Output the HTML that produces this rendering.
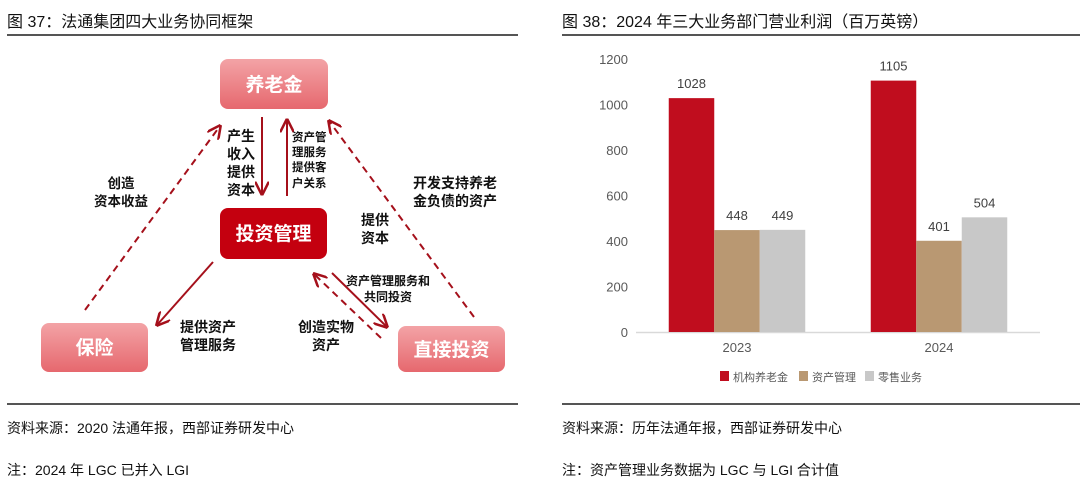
<!DOCTYPE html>
<html><head><meta charset="utf-8"><style>
body{margin:0;width:1080px;height:481px;background:#fff;overflow:hidden;font-family:"Liberation Sans","Noto Sans CJK SC",sans-serif;}
.t{position:absolute;white-space:nowrap;color:#111;}
.rule{position:absolute;height:2px;background:#555;}
</style></head><body>
<div class="t" style="left:7px;top:8px;font-size:16px;">图 37：法通集团四大业务协同框架</div>
<div class="t" style="left:562px;top:8px;font-size:16px;">图 38：2024 年三大业务部门营业利润（百万英镑）</div>
<div class="rule" style="left:7px;top:34px;width:511px;"></div>
<div class="rule" style="left:562px;top:34px;width:518px;"></div>
<div class="rule" style="left:7px;top:403px;width:511px;"></div>
<div class="rule" style="left:562px;top:403px;width:518px;"></div>
<div class="t" style="left:7px;top:418px;font-size:14px;">资料来源：2020 法通年报，西部证券研发中心</div>
<div class="t" style="left:7px;top:460px;font-size:14px;">注：2024 年 LGC 已并入 LGI</div>
<div class="t" style="left:562px;top:418px;font-size:14px;">资料来源：历年法通年报，西部证券研发中心</div>
<div class="t" style="left:562px;top:460px;font-size:14px;">注：资产管理业务数据为 LGC 与 LGI 合计值</div>

<svg style="position:absolute;left:0;top:0" width="540" height="400" font-family="Liberation Sans, Noto Sans CJK SC, sans-serif">
<defs>
<linearGradient id="pg" x1="0" y1="0" x2="0" y2="1"><stop offset="0" stop-color="#f3a3a6"/><stop offset="1" stop-color="#e6686e"/></linearGradient>
<marker id="ah" viewBox="0 0 10 10" refX="9" refY="5" markerWidth="7" markerHeight="7" orient="auto-start-reverse"><path d="M0,0 L10,5 L0,10" fill="none" stroke="#a5101b" stroke-width="1.8"/></marker>
</defs>
<g><rect x="220" y="59" width="108" height="50" rx="8" fill="url(#pg)"/><text x="274" y="91" text-anchor="middle" font-size="19" font-weight="bold" fill="#fff">养老金</text></g>
<g><rect x="220" y="208" width="107" height="51" rx="8" fill="#c4000f"/><text x="273.5" y="240" text-anchor="middle" font-size="19" font-weight="bold" fill="#fff">投资管理</text></g>
<g><rect x="41" y="323" width="107" height="49" rx="8" fill="url(#pg)"/><text x="94.5" y="354" text-anchor="middle" font-size="19" font-weight="bold" fill="#fff">保险</text></g>
<g><rect x="398" y="326" width="107" height="46" rx="8" fill="url(#pg)"/><text x="451.5" y="356" text-anchor="middle" font-size="19" font-weight="bold" fill="#fff">直接投资</text></g>
<g stroke="#a5101b" stroke-width="2" fill="none">
<line x1="262" y1="117" x2="262" y2="194" marker-end="url(#ah)"/>
<line x1="287" y1="196" x2="287" y2="120" marker-end="url(#ah)"/>
<line x1="85" y1="310" x2="220" y2="126" stroke-dasharray="7,5" marker-end="url(#ah)"/>
<line x1="213" y1="262" x2="157" y2="325" marker-end="url(#ah)"/>
<line x1="474" y1="317" x2="329" y2="121" stroke-dasharray="7,5" marker-end="url(#ah)"/>
<line x1="332" y1="273" x2="387" y2="327" marker-end="url(#ah)"/>
<line x1="381" y1="338" x2="314" y2="274" stroke-dasharray="7,5" marker-end="url(#ah)"/>
</g>
<g fill="#111" font-weight="bold">
<g font-size="14"><text x="227" y="141">产生</text><text x="227" y="159">收入</text><text x="227" y="177">提供</text><text x="227" y="195">资本</text></g>
<g font-size="11.5"><text x="292" y="141">资产管</text><text x="292" y="156">理服务</text><text x="292" y="171">提供客</text><text x="292" y="187">户关系</text></g>
<g font-size="13.5" text-anchor="middle"><text x="121" y="188">创造</text><text x="121" y="206">资本收益</text></g>
<g font-size="14" text-anchor="middle"><text x="455" y="188">开发支持养老</text><text x="455" y="206">金负债的资产</text></g>
<g font-size="14"><text x="361" y="225">提供</text><text x="361" y="243">资本</text></g>
<g font-size="12" text-anchor="middle"><text x="388" y="285">资产管理服务和</text><text x="388" y="301">共同投资</text></g>
<g font-size="14" text-anchor="middle"><text x="208" y="332">提供资产</text><text x="208" y="350">管理服务</text></g>
<g font-size="14" text-anchor="middle"><text x="326" y="332">创造实物</text><text x="326" y="350">资产</text></g>
</g>
</svg>

<svg id="chart" style="position:absolute;left:0;top:0" width="1080" height="400" font-family="Liberation Sans, Noto Sans CJK SC, sans-serif"></svg>
<script>
const categories = ["2023", "2024"];
const seriesNames = ["机构养老金", "资产管理", "零售业务"];
const pensionValues = [1028, 1105];
const assetMgmtValues = [448, 401];
const retailValues = [449, 504];
const yTicks = [0, 200, 400, 600, 800, 1000, 1200];

const NS = "http://www.w3.org/2000/svg";
const svg = document.getElementById("chart");
const colors = ["#c00d1e", "#b99872", "#c8c8c8"];
const series = [pensionValues, assetMgmtValues, retailValues];
const x0 = 636, x1 = 1040, y0 = 332, yTop = 59, yMax = 1200;
const yScale = v => y0 - (v / yMax) * (y0 - yTop);
const catW = (x1 - x0) / categories.length;
const barW = 45.5;
function mk(tag, attrs, text) {
  const e = document.createElementNS(NS, tag);
  for (const k in attrs) e.setAttribute(k, attrs[k]);
  if (text !== undefined) e.textContent = text;
  svg.appendChild(e);
  return e;
}
yTicks.forEach(t => {
  const e = mk("text", {x: 628, y: yScale(t) + 5, "text-anchor": "end", "font-size": "13", fill: "#595959"}, String(t));
  
  
});
const ax = mk("line", {x1: x0, x2: x1, y1: y0 + 0.5, y2: y0 + 0.5, stroke: "#d9d9d9", "stroke-width": 1.5});


categories.forEach((c, i) => {
  const cx = x0 + catW * (i + 0.5);
  const lbl = mk("text", {x: cx, y: y0 + 20, "text-anchor": "middle", "font-size": "13", fill: "#595959"}, c);
  
  
  series.forEach((vals, s) => {
    const bx = cx - barW * 1.5 + s * barW;
    const v = vals[i];
    const r = mk("rect", {x: bx, y: yScale(v), width: barW, height: y0 - yScale(v), fill: colors[s]});
    
    
    const vl = mk("text", {x: bx + barW / 2, y: yScale(v) - 10, "text-anchor": "middle", "font-size": "13", fill: "#404040"}, String(v));
    
    
  });
});
let lx = 720;
seriesNames.forEach((n, s) => {
  const sw = mk("rect", {x: lx, y: 371, width: 9, height: 10, fill: colors[s]});
  
  
  const t = mk("text", {x: lx + 13, y: 381, "font-size": "11", fill: "#595959"}, n);
  
  
  lx += 13 + n.length * 13 + 1;
});
</script>
</body></html>
